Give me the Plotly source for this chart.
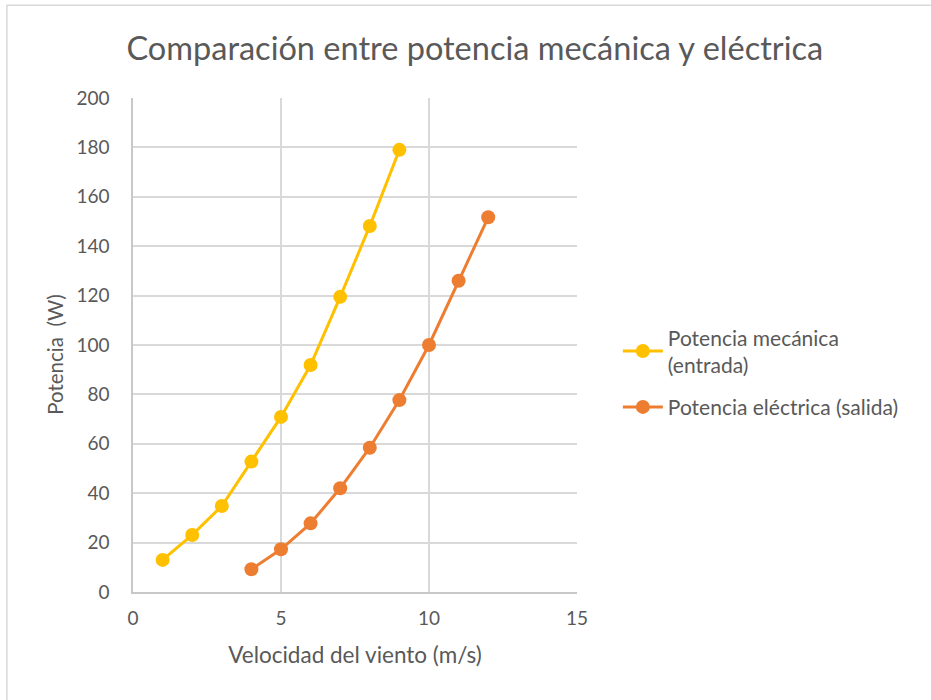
import plotly.graph_objects as go

# Wind speed (m/s) and power (W)
vel_mecanica = [1, 2, 3, 4, 5, 6, 7, 8, 9]
pot_mecanica = [13.0, 23.1, 34.8, 52.8, 70.9, 91.9, 119.5, 148.2, 179.0]

vel_electrica = [4, 5, 6, 7, 8, 9, 10, 11, 12]
pot_electrica = [9.2, 17.3, 27.8, 42.0, 58.4, 77.7, 100.0, 126.0, 151.7]

x_ticks = [0, 5, 10, 15]
y_ticks = [0, 20, 40, 60, 80, 100, 120, 140, 160, 180, 200]

FONT = "Lato, Carlito, Calibri, sans-serif"
TXT = "#595959"
GRID = "#D9D9D9"

fig = go.Figure()
fig.add_trace(go.Scatter(
    x=vel_mecanica, y=pot_mecanica, mode="lines+markers",
    name="Potencia mecánica<br>(entrada)", legendgroup="mec",
    line=dict(color="#FFC000", width=3),
    marker=dict(color="#FFC000", size=14),
))
fig.add_trace(go.Scatter(
    x=vel_electrica, y=pot_electrica, mode="lines+markers",
    name="Potencia eléctrica (salida)", legendgroup="ele",
    line=dict(color="#ED7D31", width=3),
    marker=dict(color="#ED7D31", size=14),
))

fig.update_layout(
    width=931, height=700,
    margin=dict(l=133, r=354, t=98, b=108),
    paper_bgcolor="white", plot_bgcolor="white",
    font=dict(family=FONT, color=TXT, size=18),
    title=dict(text="Comparación entre potencia mecánica y eléctrica",
               font=dict(size=32.5, color=TXT, family=FONT),
               x=0.51, xanchor="center", xref="container", y=0.93, yanchor="middle"),
    legend=dict(x=1.092, xanchor="left", y=0.445, yanchor="middle",
                font=dict(size=21, color=TXT), traceorder="grouped",
                tracegroupgap=12, itemwidth=40),
    showlegend=True,
)
fig.update_xaxes(
    range=[0, 15], tickvals=x_ticks, showgrid=True, gridcolor=GRID, gridwidth=1.5,
    showline=True, linecolor="#C8C8C8", linewidth=1.5, zeroline=False,
    ticks="", tickfont=dict(size=19, color=TXT), ticklabelstandoff=8,
    title=dict(text="Velocidad del viento (m/s)", font=dict(size=22.5, color=TXT), standoff=20),
)
fig.update_yaxes(
    range=[0, 200], tickvals=y_ticks, showgrid=True, gridcolor=GRID, gridwidth=1.5,
    showline=True, linecolor="#C8C8C8", linewidth=1.5, zeroline=False,
    ticks="", tickfont=dict(size=19, color=TXT), ticklabelstandoff=18,
)

# Y-axis title, placed slightly below the plot's vertical centre
fig.add_annotation(text="Potencia  (W)", textangle=-90, showarrow=False,
                   xref="paper", yref="paper", x=-0.176, y=0.48,
                   xanchor="center", yanchor="middle",
                   font=dict(size=20.5, color=TXT, family=FONT))

# Outer chart border
fig.add_shape(type="rect", xref="paper", yref="paper",
              x0=-0.284, x1=1.85, y0=-0.25, y1=1.188,
              line=dict(color="#D9D9D9", width=1.5), fillcolor="rgba(0,0,0,0)", layer="below")

fig.write_html("out.html")
